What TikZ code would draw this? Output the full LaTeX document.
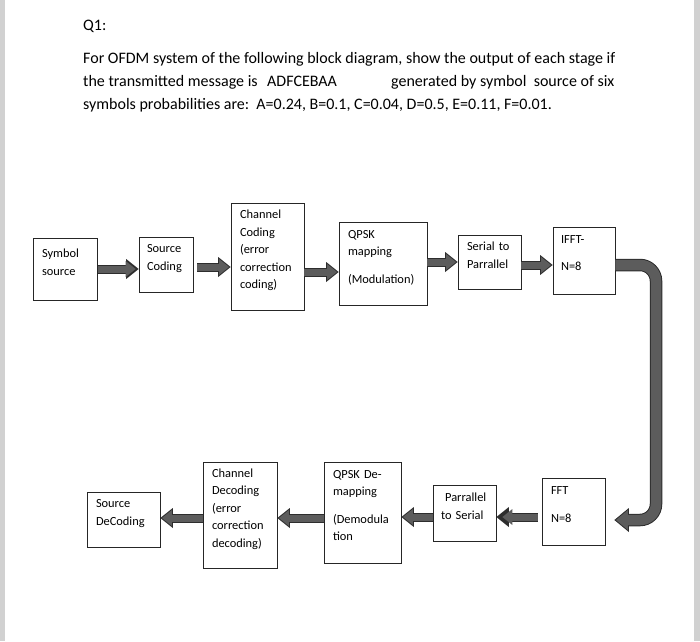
\documentclass[tikz,border=0pt]{standalone}
\usepackage{fontspec}
\setmainfont{Carlito}
\usetikzlibrary{arrows.meta}
\definecolor{arrowfill}{RGB}{92,92,92}
\definecolor{arrowline}{RGB}{45,45,45}

\begin{document}
\begin{tikzpicture}[
    x=1pt, y=-1pt,
    block/.style={rectangle, draw=black!85, line width=0.7pt, align=left, inner xsep=9pt, inner ysep=0pt,
        execute at end node={\rule[-14pt]{0pt}{14pt}}, font=\fontsize{12.4}{17.5}\selectfont}, % Box for each stage, text a bit high
    question/.style={anchor=base west, inner sep=0pt, font=\fontsize{16}{23}\selectfont}, % Text of the question
    flow/.style={draw=arrowfill, line width=7pt, shorten >=1.6pt, -{Triangle[length=10pt, width=16pt, line width=0pt]},
        preaction={draw=arrowline, line width=9pt, shorten >=0pt, -{Triangle[length=12.5pt, width=20pt, line width=0pt]}}}, % Block arrow between stages
    bigflow/.style={draw=arrowfill, line width=10.5pt, shorten >=1.6pt, -{Triangle[length=12pt, width=20pt, line width=0pt]},
        preaction={draw=arrowline, line width=12.5pt, shorten >=0pt, -{Triangle[length=14.5pt, width=24pt, line width=0pt]}}} % Bent arrow
    ]
    \useasboundingbox (0,0) rectangle (700,641);
    \fill[black!18] (0,0) rectangle (5,641);
    \fill[black!18] (694,0) rectangle (700,641);

    % question
    \node[question] (q) at (83,30) {Q1:};
    \node[question] (l1) at (83,63) {For OFDM system of the following block diagram, show the output of each stage if};
    \node[question] (l2) at (83,86) {the transmitted message is};
    \node[question] (msg) at (267,86) {ADFCEBAA};
    \node[question] (l2b) at (391,86) {generated by symbol\ \ source of six};
    \node[question] (l3) at (83,109) {symbols probabilities are:\ \ A=0.24, B=0.1, C=0.04, D=0.5, E=0.11, F=0.01.};

    % transmitter
    \node[block, text width=46pt, minimum height=62pt] (sym) at (65,269) {Symbol\\source};
    \node[block, text width=38pt, minimum height=55pt, inner xsep=8pt] (src) at (166,264.5) {Source\\Coding};
    \node[block, text width=55pt, minimum height=107pt] (cc) at (267.5,256.5) {Channel\\Coding\\(error\\correction\\coding)};
    \node[block, text width=70pt, minimum height=83pt] (qpsk) at (383,263.5) {QPSK\\mapping\\[10pt](Modulation)};
    \node[block, text width=45pt, minimum height=54pt] (s2p) at (489.5,262) {Serial to\\Parrallel};
    \node[block, text width=46pt, minimum height=67pt, inner xsep=8pt] (ifft) at (584,260.5) {IFFT-\\[9.5pt]N=8};

    % receiver
    \node[block, text width=45pt, minimum height=67pt] (fft) at (573.5,511.5) {FFT\\[10pt]N=8};
    \node[block, text width=47pt, minimum height=56pt, inner xsep=8pt] (p2s) at (464.5,513) {\ Parrallel\\to Serial};
    \node[block, text width=59pt, minimum height=101pt] (qdem) at (362.5,512.5) {QPSK De-\\mapping\\[10pt](Demodula\\tion};
    \node[block, text width=56pt, minimum height=106pt] (cdec) at (240,515) {Channel\\Decoding\\(error\\correction\\decoding)};
    \node[block, text width=55pt, minimum height=55pt] (sdec) at (123.5,519.5) {Source\\DeCoding};

    % arrows
    \draw[flow, shorten <=1pt, shorten >=3pt] (sym.east) -- (sym.east -| src.west);
    \draw[flow, shorten <=4pt] ([yshift=-2.5pt]src.east) -- ([yshift=-2.5pt]src.east -| cc.west);
    \draw[flow] ([yshift=-15.5pt]cc.east) -- ([yshift=-15.5pt]cc.east -| qpsk.west);
    \draw[flow] ([yshift=1.5pt]qpsk.east) -- ([yshift=1.5pt]qpsk.east -| s2p.west);
    \draw[flow] ([yshift=-3pt]s2p.east) -- ([yshift=-3pt]s2p.east -| ifft.west);
    \coordinate (turn) at (656,0);
    \draw[bigflow, rounded corners=16pt] ([yshift=-4.5pt]ifft.east) -- ([yshift=-4.5pt]ifft.east -| turn)
        -- ([yshift=-8.5pt]fft.east -| turn) -- ([xshift=9pt, yshift=-8.5pt]fft.east);
    \draw[flow, shorten <=4pt, shorten >=6pt] ([yshift=-5.5pt]fft.west) -- ([yshift=-5.5pt]fft.west -| p2s.east);
    \draw[flow] ([yshift=-4pt]p2s.west) -- ([yshift=-4pt]p2s.west -| qdem.east);
    \draw[flow] ([yshift=-5.5pt]qdem.west) -- ([yshift=-5.5pt]qdem.west -| cdec.east);
    \draw[flow] ([yshift=-3pt]cdec.west) -- ([yshift=-3pt]cdec.west -| sdec.east);
\end{tikzpicture}
\end{document}
